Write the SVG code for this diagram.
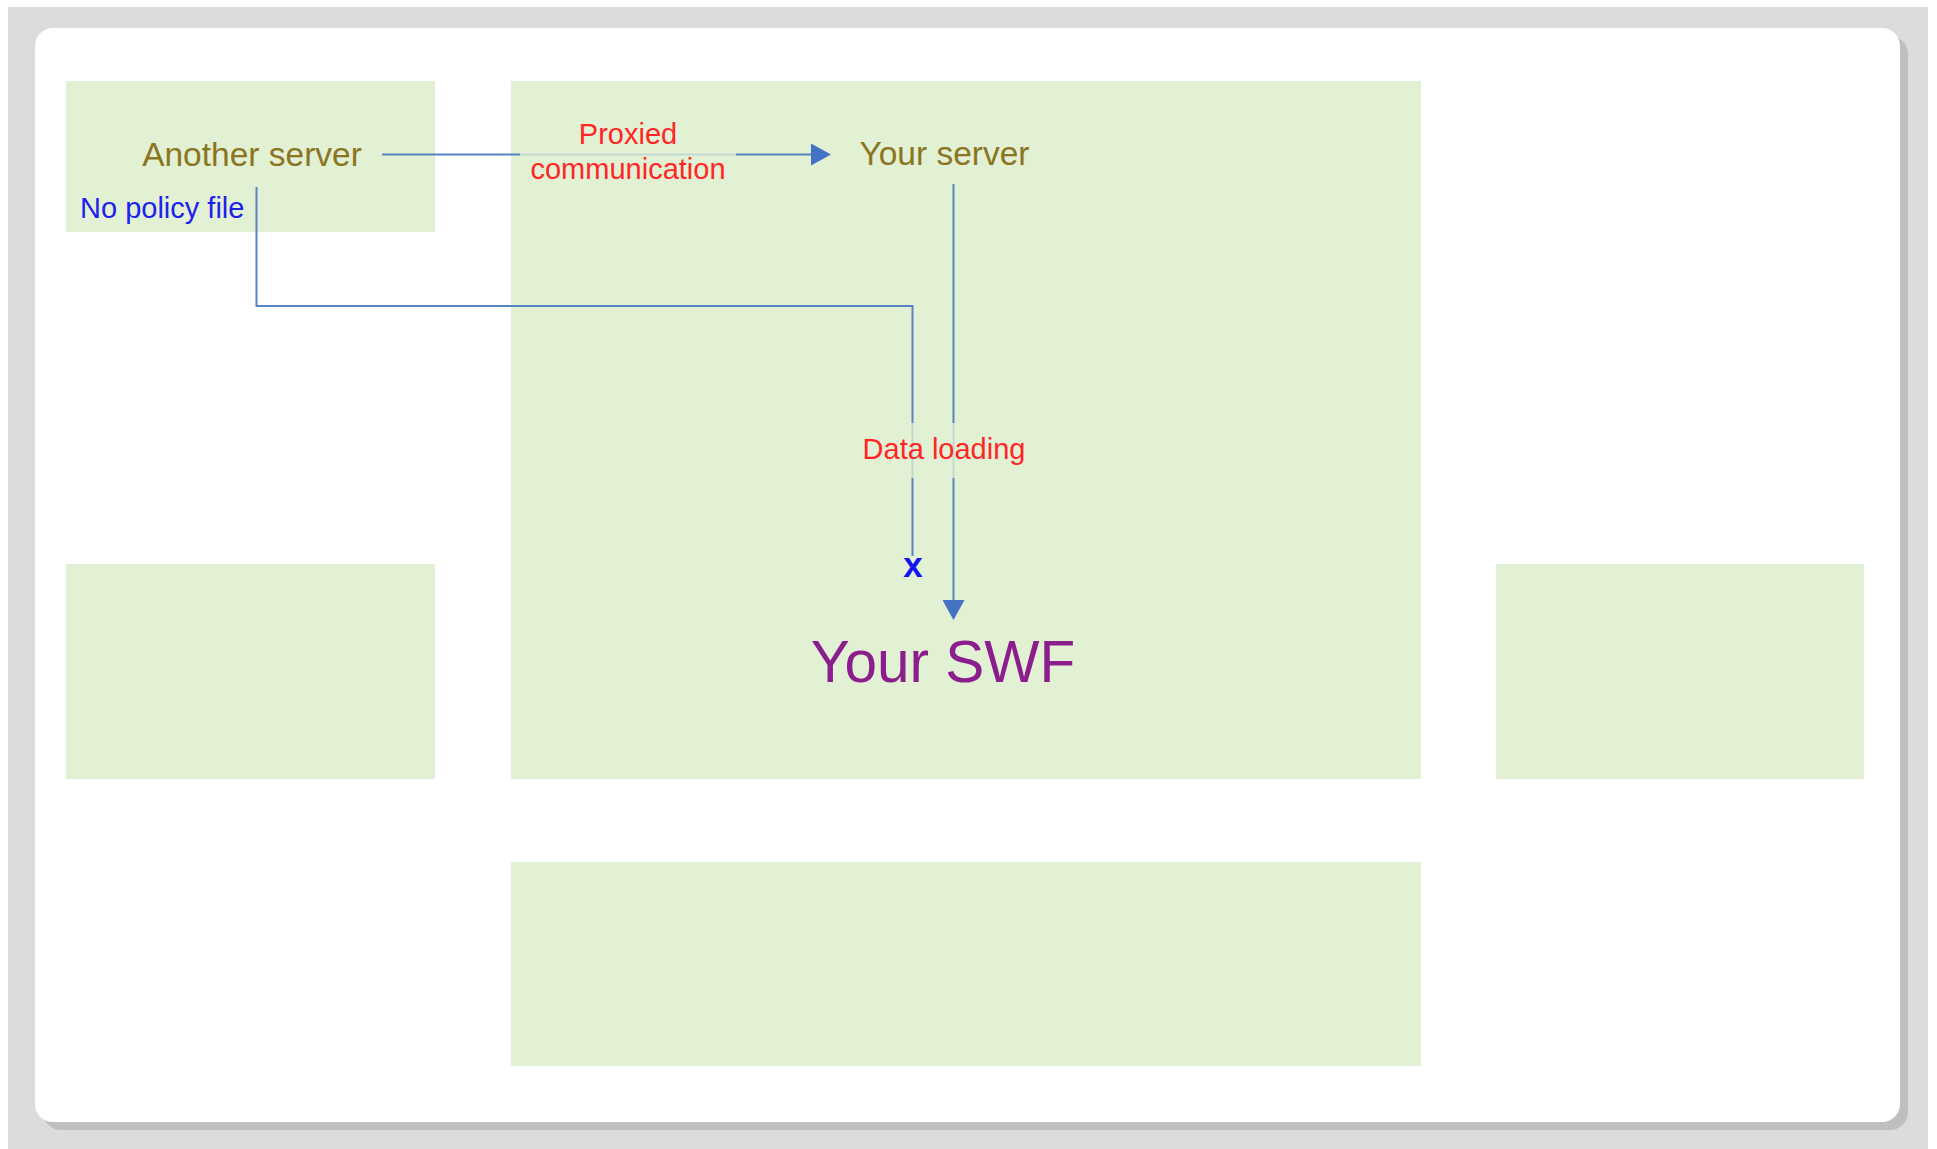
<svg xmlns="http://www.w3.org/2000/svg" width="1937" height="1149" viewBox="0 0 1937 1149">
  <style>
    .zone { fill: #E2F0D4; }
    .node-title { font-family: "Liberation Sans", Arial, sans-serif; font-size: 33.5px; fill: #8A7521; text-anchor: middle; }
    .edge-label { font-family: "Liberation Sans", Arial, sans-serif; font-size: 29px; fill: #FF2626; text-anchor: middle; }
    .label-bg { fill: #E2F0D4; opacity: 0.78; }
    .wire { fill: none; stroke: #5585C2; stroke-width: 2; }
  </style>
  <defs>
    <marker id="arrow" markerUnits="userSpaceOnUse" markerWidth="22" markerHeight="22" viewBox="0 0 20 22" refX="0" refY="11" orient="auto">
      <path d="M0,0 L20,11 L0,22 Z" fill="#4472C4"/>
    </marker>
  </defs>

  <!-- page frame -->
  <rect x="8" y="7" width="1920" height="1142" fill="#DCDCDC"/>
  <rect x="43" y="36" width="1865" height="1094" rx="18" fill="#BFBFBF"/>
  <rect x="35" y="28" width="1865" height="1094" rx="18" fill="#FFFFFF"/>

  <!-- zones -->
  <g id="zone-another-server"><rect class="zone" x="66" y="81" width="369" height="151"/></g>
  <g id="zone-main"><rect class="zone" x="511" y="81" width="910" height="698"/></g>
  <g id="zone-left"><rect class="zone" x="66" y="564" width="369" height="215"/></g>
  <g id="zone-right"><rect class="zone" x="1496" y="564" width="368" height="215"/></g>
  <g id="zone-bottom"><rect class="zone" x="511" y="862" width="910" height="204"/></g>

  <!-- connectors -->
  <g id="connectors">
    <path class="wire" d="M382,154.5 H811" marker-end="url(#arrow)"/>
    <path class="wire" d="M953.5,184 V600" marker-end="url(#arrow)"/>
    <path class="wire" d="M256.5,187 V306 H912.5 V556"/>
  </g>

  <!-- nodes -->
  <g id="another-server">
    <text class="node-title" x="252" y="166">Another server</text>
    <text x="80" y="218" font-family="Liberation Sans, Arial, sans-serif" font-size="29" fill="#2121EE">No policy file</text>
  </g>
  <g id="your-server">
    <text class="node-title" x="944.5" y="165">Your server</text>
  </g>
  <g id="your-swf">
    <text x="943" y="682" font-family="Liberation Sans, Arial, sans-serif" font-size="58.5" fill="#8B1D8C" text-anchor="middle">Your SWF</text>
  </g>

  <!-- connector labels -->
  <g id="label-proxied">
    <rect class="label-bg" x="520" y="115" width="216" height="78"/>
    <text class="edge-label" x="628" y="144">Proxied</text>
    <text class="edge-label" x="628" y="179">communication</text>
  </g>
  <g id="label-data-loading">
    <rect class="label-bg" x="827" y="423" width="234" height="55"/>
    <text class="edge-label" x="944" y="459">Data loading</text>
  </g>
  <g id="label-blocked">
    <text x="913" y="577" font-family="Liberation Sans, Arial, sans-serif" font-size="35" font-weight="bold" fill="#1414F0" text-anchor="middle">x</text>
  </g>
</svg>
